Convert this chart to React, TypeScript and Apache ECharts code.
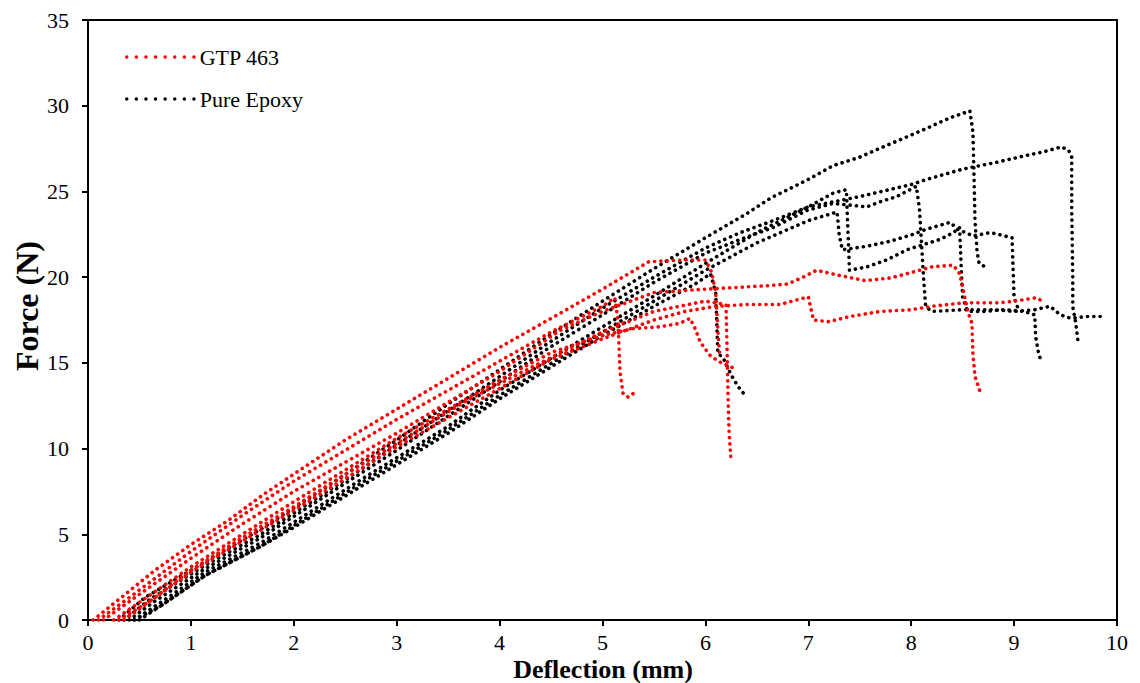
import React, { useEffect, useRef } from "react";
import * as echarts from "echarts";

const xTicks = [0, 1, 2, 3, 4, 5, 6, 7, 8, 9, 10];
const yTicks = [0, 5, 10, 15, 20, 25, 30, 35];
const seriesNames = ["GTP 463", "Pure Epoxy"];
const seriesColors = ["#ff0000", "#000000"];
const xTitle = "Deflection (mm)";
const yTitle = "Force (N)";

// GTP 463 specimens: [deflection mm, force N]
const gtp1 = [[0.05,0],[0.3,1.2],[0.65,2.9],[1.0,4.4],[1.36,5.8],[1.7,7.3],[2.06,8.75],[2.5,10.5],[3.0,12.3],[3.5,14.1],[4.0,15.9],[4.59,17.9],[5.0,19.3],[5.45,20.9],[5.8,21.0],[6.0,21.0],[6.06,20.3],[6.1,19.1],[6.12,17.0],[6.14,15.3]];
const gtp2 = [[0.1,0],[0.4,1.3],[1.0,4.0],[1.5,6.1],[2.0,8.1],[2.5,9.9],[3.0,11.7],[3.5,13.4],[4.0,15.1],[4.5,16.8],[5.0,18.3],[5.12,18.8],[5.15,17.5],[5.16,16.0],[5.17,14.5],[5.2,13.2],[5.25,13.0],[5.32,13.3]];
const gtp3 = [[0.15,0],[0.5,1.5],[1.0,3.6],[1.5,5.6],[2.0,7.5],[2.5,9.2],[3.0,10.9],[3.5,12.7],[4.0,14.5],[4.59,16.9],[5.0,18.0],[5.5,19.1],[6.0,19.3],[6.3,19.4],[6.6,19.5],[6.8,19.6],[6.95,20.0],[7.08,20.4],[7.3,20.1],[7.55,19.8],[7.8,19.95],[8.02,20.3],[8.2,20.6],[8.41,20.7],[8.47,20.2],[8.5,19.4],[8.55,18.0],[8.59,17.3],[8.6,15.5],[8.62,14.2],[8.67,13.3]];
const gtp4 = [[0.3,0],[0.6,1.1],[1.0,2.9],[1.5,4.8],[2.0,6.6],[2.5,8.5],[3.0,10.3],[3.68,12.8],[4.33,14.8],[5.0,16.8],[5.5,18.0],[6.0,18.6],[6.2,18.4],[6.21,16.0],[6.22,13.0],[6.23,11.0],[6.25,9.2]];
const gtp5 = [[0.35,0],[1.0,2.8],[2.0,6.4],[3.0,10.1],[3.5,11.8],[4.0,13.5],[4.5,15.2],[5.0,16.4],[5.5,17.5],[5.8,18.0],[6.1,18.3],[6.4,18.4],[6.72,18.4],[7.0,18.85],[7.05,17.5],[7.2,17.4],[7.4,17.7],[7.7,18.0],[8.0,18.1],[8.2,18.3],[8.5,18.5],[8.85,18.5],[9.0,18.6],[9.22,18.8],[9.3,18.5]];
const gtp6 = [[0.25,0],[1.0,3.1],[2.0,6.9],[3.0,10.6],[4.0,14.0],[4.5,15.6],[5.0,16.6],[5.3,17.0],[5.55,17.1],[5.75,17.3],[5.85,17.6],[5.9,17.0],[5.95,16.2],[6.05,15.4],[6.14,15.05],[6.27,14.7]];

// Pure Epoxy specimens
const epo1 = [[0.3,0],[0.55,1.3],[1.14,3.4],[1.68,5.3],[2.48,8.4],[3.0,10.5],[3.5,12.6],[4.0,14.6],[4.46,16.5],[5.0,18.6],[5.5,20.5],[6.0,22.3],[6.4,23.7],[6.63,24.6],[7.0,25.7],[7.24,26.5],[7.5,27.0],[7.73,27.6],[8.12,28.6],[8.38,29.3],[8.57,29.7],[8.6,28.5],[8.61,26.0],[8.62,23.3],[8.64,21.5],[8.66,20.8],[8.72,20.6]];
const epo2 = [[0.35,0],[0.6,1.2],[1.14,3.2],[1.68,5.0],[2.48,8.1],[3.0,10.2],[3.5,12.2],[4.0,14.2],[4.46,16.1],[5.0,18.2],[5.5,20.0],[6.0,21.7],[6.34,22.6],[6.66,23.3],[7.0,24.1],[7.5,24.7],[8.0,25.4],[8.15,25.7],[8.5,26.3],[8.83,26.7],[9.12,27.1],[9.28,27.3],[9.46,27.6],[9.53,27.4],[9.56,27.0],[9.56,24.0],[9.57,20.0],[9.57,18.3],[9.6,17.3],[9.62,16.3]];
const epo3 = [[0.4,0],[0.65,1.1],[1.14,3.0],[1.68,4.8],[2.48,7.9],[3.0,9.9],[3.5,11.9],[4.0,13.9],[4.46,15.8],[5.0,17.8],[5.5,19.7],[6.0,21.4],[6.34,22.2],[6.66,22.9],[6.99,23.9],[7.24,24.3],[7.57,24.1],[7.7,24.4],[7.86,24.7],[8.05,25.3],[8.08,24.0],[8.1,22.0],[8.12,20.0],[8.14,18.3],[8.2,18.0],[8.5,18.1],[8.8,18.1],[9.0,18.0],[9.2,18.1],[9.35,18.3],[9.45,17.8],[9.55,17.6],[9.7,17.7],[9.88,17.7]];
const epo4 = [[0.45,0],[0.7,1.0],[1.14,2.8],[1.68,4.5],[2.0,5.7],[2.71,8.4],[3.5,11.3],[4.0,13.4],[4.59,15.6],[5.0,17.1],[5.5,18.9],[6.0,20.8],[6.5,22.6],[7.0,24.1],[7.24,24.9],[7.37,25.1],[7.38,23.5],[7.39,22.0],[7.4,20.4],[7.57,20.6],[7.76,21.0],[7.96,21.6],[8.28,22.2],[8.41,22.6],[8.47,22.9],[8.48,21.5],[8.49,20.0],[8.5,18.8],[8.55,18.0],[8.7,18.0],[8.9,18.1],[9.1,18.0],[9.2,17.8],[9.21,16.5],[9.24,15.5],[9.27,15.0]];
const epo5 = [[0.5,0],[0.75,1.0],[1.14,2.6],[1.68,4.3],[2.0,5.5],[2.71,8.2],[3.5,11.1],[4.0,13.1],[4.59,15.3],[5.0,16.8],[5.5,18.6],[6.0,20.4],[6.5,22.0],[7.0,23.3],[7.28,23.8],[7.3,22.5],[7.33,21.6],[7.57,21.8],[7.8,22.1],[8.02,22.5],[8.15,22.8],[8.38,23.2],[8.45,22.8],[8.6,22.4],[8.77,22.6],[8.98,22.3],[8.99,20.5],[9.0,18.8],[9.05,18.0]];
const epo6 = [[0.45,0],[0.7,0.8],[1.14,2.6],[1.68,4.3],[2.0,5.4],[2.71,8.0],[3.5,10.9],[4.0,12.9],[4.59,15.1],[5.0,16.6],[5.5,18.3],[5.9,19.6],[6.05,20.2],[6.1,19.1],[6.11,17.5],[6.12,15.6],[6.18,15.2],[6.25,14.3],[6.32,13.6],[6.4,13.0]];

const gtpSets = [gtp1, gtp2, gtp3, gtp4, gtp5, gtp6];
const epoSets = [epo1, epo2, epo3, epo4, epo5, epo6];

const FONT = "'Liberation Serif', 'Times New Roman', serif";

export default function App() {
  const ref = useRef<HTMLDivElement>(null);
  useEffect(() => {
    if (!ref.current) return;
    const chart = echarts.init(ref.current, undefined, { renderer: "svg" });
    const dotted = (color: string) => ({
      color,
      width: 3.6,
      type: [0.1, 6.2] as any,
      cap: "round" as const,
    });
    const mk = (sets: number[][][], idx: number) =>
      sets.map((d) => ({
        name: seriesNames[idx],
        type: "line" as const,
        data: d,
        showSymbol: false,
        symbol: "none",
        smooth: false,
        color: seriesColors[idx],
        lineStyle: dotted(seriesColors[idx]),
        z: idx === 0 ? 3 : 2,
      }));
    const titleStyle = {
      fontFamily: FONT,
      fontWeight: "bold",
      fill: "#000",
      align: "center",
      verticalAlign: "middle",
    };
    chart.setOption({
      animation: false,
      grid: {
        left: 88,
        right: 23,
        top: 20,
        bottom: 63,
        outerBoundsMode: "none",
        containLabel: false,
        show: true,
        borderColor: "#000",
        borderWidth: 2,
        backgroundColor: "transparent",
      },
      legend: {
        orient: "vertical",
        left: 120,
        top: 41,
        itemWidth: 68,
        itemHeight: 14,
        itemGap: 20,
        textStyle: { fontFamily: FONT, fontSize: 22, color: "#000" },
        data: seriesNames.map((n, i) => ({
          name: n,
          itemStyle: { opacity: 0 },
          lineStyle: { color: seriesColors[i], width: 3.4, type: [0.1, 9.5], cap: "round" },
        })),
      },
      graphic: [
        {
          type: "text",
          x: 27,
          y: 306,
          rotation: Math.PI / 2,
          style: { ...titleStyle, text: yTitle, fontSize: 32 },
        },
        {
          type: "text",
          x: 603,
          y: 669,
          style: { ...titleStyle, text: xTitle, fontSize: 26 },
        },
      ],
      xAxis: {
        type: "value",
        min: xTicks[0],
        max: xTicks[xTicks.length - 1],
        interval: 1,
        axisLine: { lineStyle: { color: "#000", width: 2 } },
        axisTick: { length: 6, lineStyle: { color: "#000", width: 2 } },
        axisLabel: { fontFamily: FONT, fontSize: 22, lineHeight: 22, color: "#000", margin: 11 },
        splitLine: { show: false },
      },
      yAxis: {
        type: "value",
        min: yTicks[0],
        max: yTicks[yTicks.length - 1],
        interval: 5,
        axisLine: { lineStyle: { color: "#000", width: 2 } },
        axisTick: { length: 6, lineStyle: { color: "#000", width: 2 } },
        axisLabel: { fontFamily: FONT, fontSize: 22, color: "#000", margin: 19 },
        splitLine: { show: false },
      },
      series: [...mk(epoSets, 1), ...mk(gtpSets, 0)],
    });
    return () => chart.dispose();
  }, []);
  return (
    <div
      ref={ref}
      style={{ position: "absolute", left: 0, top: 0, width: 1140, height: 683, background: "#fff" }}
    />
  );
}
